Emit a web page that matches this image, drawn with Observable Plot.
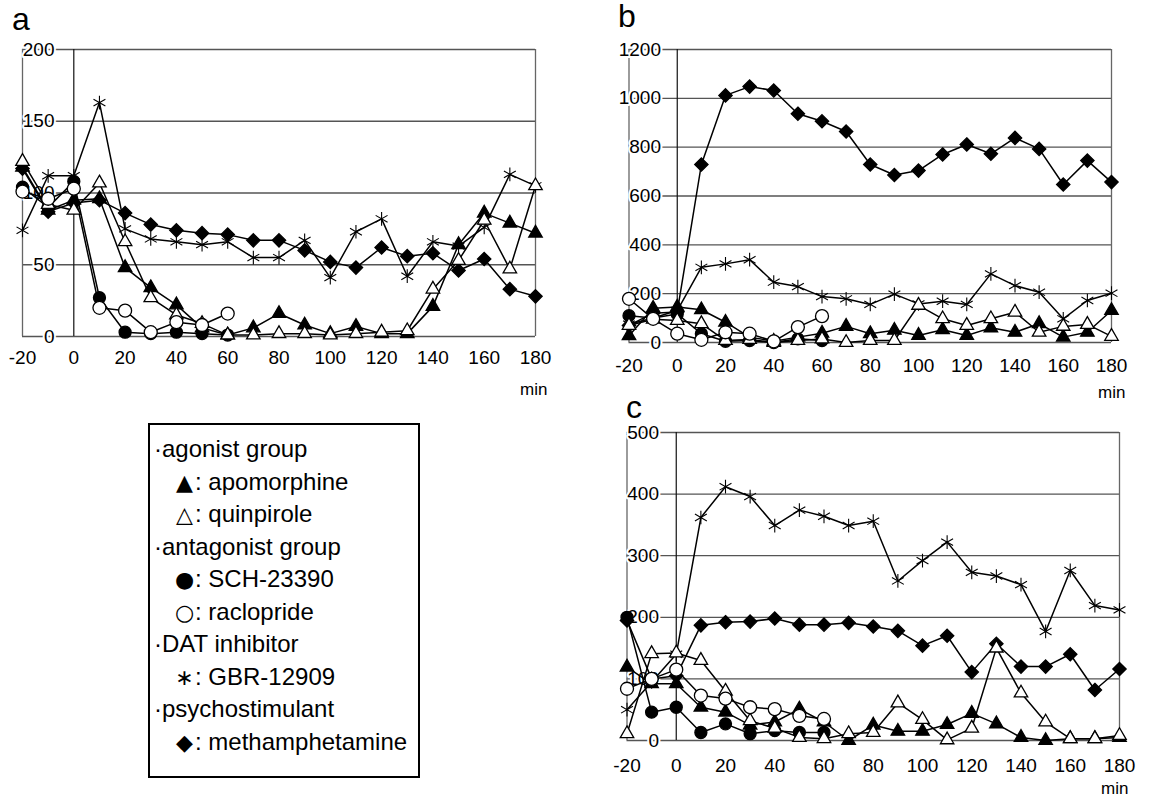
<!DOCTYPE html>
<html><head><meta charset="utf-8">
<script src="https://cdn.jsdelivr.net/npm/d3@7"></script>
<script src="https://cdn.jsdelivr.net/npm/@observablehq/plot@0.6"></script>
<style>
body{margin:0;background:#fff;}
#root{position:relative;width:1150px;height:805px;font-family:"Liberation Sans",Arial,sans-serif;color:#000;}
.panel{position:absolute;}
.letter{position:absolute;font-size:32px;line-height:1;}
#legend{position:absolute;left:148px;top:423px;width:272px;height:355px;border:2px solid #000;box-sizing:border-box;font-size:24px;}
#legend div{position:absolute;white-space:nowrap;line-height:1;transform:translateY(-50%);}
#legend .sym{display:inline-block;width:21px;text-align:center;font-family:"DejaVu Sans",sans-serif;font-size:22px;vertical-align:0px;}
</style></head><body><div id="root"></div><script>
// time points (min)
const times = [-20,-10,0,10,20,30,40,50,60,70,80,90,100,110,120,130,140,150,160,170,180];
const timesShort = [-20,-10,0,10,20,30,40,50,60];
const xTickLabels = [-20,0,20,40,60,80,100,120,140,160,180];

// panel a
const aApomorphine = [118,88,95,96,48,34,22,6,1,6,16,8,2,7,2,2,21,64,86,79,72];
const aQuinpirole  = [122,92,88,107,66,27,15,9,1,1,2,2,1,2,3,4,33,53,81,47,105];
const aSCH         = [104,90,108,27,3,2,3,2,1];
const aRaclopride  = [101,96,103,20,18,3,10,8,16];
const aGBR         = [74,112,112,163,75,68,66,64,66,55,55,67,41,73,82,42,66,63,76,113,105];
const aMeth        = [117,87,93,95,86,78,74,72,71,67,67,60,52,48,62,56,58,46,54,33,28];
const aYTicks = [0,50,100,150,200];

// panel b
const bApomorphine = [28,140,145,134,83,22,5,22,38,66,36,50,29,52,29,60,42,77,22,42,131];
const bQuinpirole  = [70,95,90,77,8,12,0,8,14,0,8,8,152,97,70,97,124,42,66,74,25];
const bSCH         = [110,100,117,36,5,8,0,15,8];
const bRaclopride  = [179,97,36,11,42,36,5,63,108];
const bGBR         = [75,100,131,308,322,339,247,229,188,179,156,198,158,169,156,281,233,206,97,172,202];
const bMeth        = [70,120,125,729,1012,1048,1032,937,906,864,729,686,704,770,811,773,838,793,647,745,657];
const bYTicks = [0,200,400,600,800,1000,1200];

// panel c
const cApomorphine = [119,92,92,54,46,25,30,51,30,0,25,15,15,26,44,27,5,0,3,3,5];
const cQuinpirole  = [11,141,142,130,80,32,20,5,3,11,13,61,34,1,20,150,77,30,3,3,8];
const cSCH         = [200,46,54,13,27,11,16,13,13];
const cRaclopride  = [84,100,115,73,68,54,51,40,35];
const cGBR         = [50,95,140,362,412,396,349,374,364,349,356,259,292,322,273,267,253,177,276,219,212];
const cMeth        = [195,100,105,187,192,193,198,188,188,191,185,178,154,170,111,157,120,120,140,82,116];
const cYTicks = [0,100,200,300,400,500];

const seriesOrder = ["meth","GBR","apomorphine","SCH","quinpirole","raclopride"];
const styles = {
  meth:        {symbol:"diamond2", fill:"black", stroke:"black", r:6},
  GBR:         {symbol:"asterisk", fill:"none",  stroke:"black", r:6.5},
  apomorphine: {symbol:"triangle", fill:"black", stroke:"black", r:5},
  SCH:         {symbol:"circle",   fill:"black", stroke:"black", r:6},
  quinpirole:  {symbol:"triangle", fill:"white", stroke:"black", r:5},
  raclopride:  {symbol:"circle",   fill:"white", stroke:"black", r:6.5}
};

function toRows(seriesMap){
  const rows = [];
  for (const s of seriesOrder) {
    const vals = seriesMap[s];
    const ts = vals.length === times.length ? times : timesShort;
    vals.forEach((v,i)=>rows.push({s, t: ts[i], v}));
  }
  return rows;
}

function panel(seriesMap, yTicks, L){
  const rows = toRows(seriesMap);
  const marks = [
    Plot.ruleY(yTicks, {y: d=>d, stroke:"#555", strokeWidth:1.3}),
    Plot.ruleX([-20,180], {x: d=>d, stroke:"#666", strokeWidth:1.3}),
    Plot.ruleX([0], {x: d=>d, stroke:"#111", strokeWidth:1.2}),
    Plot.text(yTicks, {y: d=>d, text: d=>String(d), frameAnchor:"left", dx:32, textAnchor:"end", fill:"black", stroke:"white", strokeWidth:4, fontSize:19}),
    Plot.text(xTickLabels, {x: d=>d, text: d=>String(d), frameAnchor:"bottom", dy:L.xdy, fill:"black", fontSize:19}),
    Plot.text(["min"], {text: d=>d, frameAnchor:"bottom-right", dx:L.mindx, dy:L.mindy, textAnchor:"end", fill:"black", fontSize:17}),
    Plot.line(rows, {x:"t", y:"v", z:"s", stroke:"black", strokeWidth:1.5})
  ];
  for (const s of seriesOrder) {
    const st = styles[s];
    marks.push(Plot.dot(rows.filter(d=>d.s===s), {x:"t", y:"v", symbol: ()=>st.symbol, r: st.r, fill: st.fill, stroke: st.stroke, strokeWidth: s==="GBR"?1.1:1.3}));
  }
  const svg = Plot.plot({
    width: L.width, height: L.height,
    marginLeft: L.ml, marginRight: L.mr, marginTop: L.mt, marginBottom: L.mb,
    x: {domain:[-20,180], axis:null},
    y: {domain:[0, yTicks[yTicks.length-1]], axis:null},
    symbol: {type:"identity"},
    style: {fontFamily:"'Liberation Sans', Arial, sans-serif", fontSize:"19px", background:"transparent", overflow:"visible"},
    marks
  });
  svg.classList.add("panel");
  svg.style.left = L.left + "px";
  svg.style.top = L.top + "px";
  return svg;
}

const root = document.getElementById("root");
root.appendChild(panel({apomorphine:aApomorphine, quinpirole:aQuinpirole, SCH:aSCH, raclopride:aRaclopride, GBR:aGBR, meth:aMeth}, aYTicks,
  {left:0, top:0, width:560, height:410, ml:22, mr:25, mt:49, mb:74, xdy:27, mindx:12, mindy:58}));
root.appendChild(panel({apomorphine:bApomorphine, quinpirole:bQuinpirole, SCH:bSCH, raclopride:bRaclopride, GBR:bGBR, meth:bMeth}, bYTicks,
  {left:580, top:0, width:570, height:410, ml:48.5, mr:39, mt:49, mb:68, xdy:29, mindx:14, mindy:55}));
root.appendChild(panel({apomorphine:cApomorphine, quinpirole:cQuinpirole, SCH:cSCH, raclopride:cRaclopride, GBR:cGBR, meth:cMeth}, cYTicks,
  {left:580, top:410, width:570, height:395, ml:46.5, mr:31, mt:22, mb:65, xdy:31, mindx:9, mindy:53}));

const letters = [["a",12,3],["b",618,0],["c",626,391]];
for (const [t,x,y] of letters) {
  const d = document.createElement("div");
  d.className = "letter"; d.textContent = t;
  d.style.left = x+"px"; d.style.top = y+"px";
  root.appendChild(d);
}

const legendLines = [
  ["", "·agonist group"],
  ["▲", ": apomorphine"],
  ["△", ": quinpirole"],
  ["", "·antagonist group"],
  ["●", ": SCH-23390"],
  ["○", ": raclopride"],
  ["", "·DAT inhibitor"],
  ["∗", ": GBR-12909"],
  ["", "·psychostimulant"],
  ["◆", ": methamphetamine"]
];
const leg = document.createElement("div");
leg.id = "legend";
legendLines.forEach(([sym, txt], i) => {
  const d = document.createElement("div");
  if (sym) {
    const s = document.createElement("span");
    s.className = "sym"; s.textContent = sym;
    d.appendChild(s);
  }
  d.appendChild(document.createTextNode(txt));
  d.style.left = (sym ? 24 : 4) + "px";
  d.style.top = (24 + i*32.5) + "px";
  leg.appendChild(d);
});
root.appendChild(leg);
</script></body></html>
